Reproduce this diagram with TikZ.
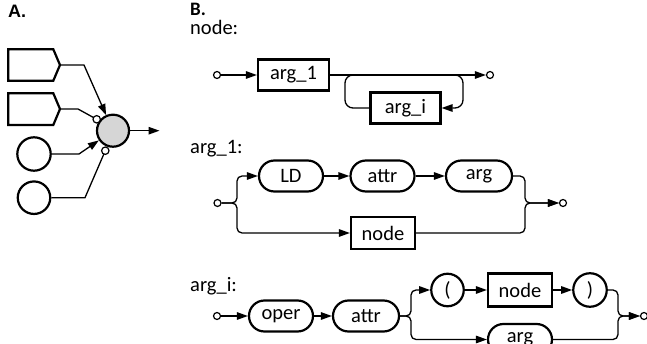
\documentclass[tikz,border=0pt]{standalone}
\usepackage{fontspec}
\setmainfont{Carlito}
\newfontfamily\arialfont{Liberation Sans}
\usetikzlibrary{arrows.meta}

\begin{document}
\begin{tikzpicture}[x=1pt,y=-1pt,
  conn/.style={line width=1.3pt},
  arr/.style={conn,-{Triangle[length=11pt,width=7.5pt]}},
  term/.style={circle,draw,line width=1.2pt,fill=white,minimum size=7pt,inner sep=0pt},
  sqbox/.style={draw,line width=2.2pt,minimum height=31pt,inner sep=0pt,
    font=\fontsize{20.5}{24}\selectfont},
  rbox/.style={sqbox,rounded corners=15.5pt},
  cbox/.style={circle,draw,line width=2.2pt,minimum size=33pt,inner sep=0pt,
    font=\fontsize{20.5}{24}\selectfont},
  lbl/.style={anchor=base west,inner sep=0pt,font=\fontsize{20.5}{24}\selectfont},
  tag/.style={draw,line width=2.2pt,line join=miter}
]
\useasboundingbox (0,0) rectangle (647,344);

% ---------------- panel A: a unit with its inputs ----------------
\node[lbl,font=\fontsize{18}{20}\selectfont\arialfont\bfseries] (ttlA) at (8,18) {A.};

\draw[tag] (8.3,49.3) -- (53.3,49.3) -- (60,65) -- (53.3,80.7) -- (8.3,80.7) -- cycle;
\coordinate (p1) at (60,65);
\draw[tag] (8.3,93.3) -- (53.3,93.3) -- (60,109) -- (53.3,125) -- (8.3,125) -- cycle;
\coordinate (p2) at (60,109);
\node[circle,draw,line width=2.2pt,minimum size=33.4pt,inner sep=0pt] (c1) at (34,154) {};
\node[circle,draw,line width=2.2pt,minimum size=32.5pt,inner sep=0pt] (c2) at (34,197.7) {};
\node[circle,draw,line width=2.2pt,fill=black!16,minimum size=32pt,inner sep=0pt] (g) at (113,130.7) {};
\coordinate (gout) at (159.5,130.7);

\draw[arr] (p1) -- (84,65) -- (g);
\draw[arr] (c1) -- (79,154) -- (g);
\draw[conn] (p2) -- (78,109) -- (96.7,119.3);
\draw[conn] (c2) -- (85,197.7) -- (105.3,150.7);
\node[term,minimum size=7.4pt] (n1) at (96.7,119.3) {};
\node[term,minimum size=7.4pt] (n2) at (105.3,150.7) {};
\draw[arr] (g) -- (gout);

% ---------------- panel B: syntax diagrams ----------------
\node[lbl,font=\fontsize{19}{20}\selectfont\bfseries] (ttlB) at (190,16) {B.};

% node:
\node[lbl] (lnode) at (190,34.5) {node:};
\node[term] (s1) at (217,75) {};
\node[sqbox,minimum width=71pt] (a1) at (293.5,75) {arg\_1};
\node[term] (e1) at (490,75) {};
\node[sqbox,minimum width=70pt] (ai) at (405.5,108) {arg\_i};
\draw[arr] (s1) -- (a1);
\draw[arr] (a1) -- (e1);
\draw[conn,rounded corners=8pt] (ai) -- (345,108) -- (345,75) -- (362,75);
\draw[arr,rounded corners=8pt] (446,75) -- (463,75) -- (463,108) -- (ai);

% arg_1:
\node[lbl] (larg1) at (190,154) {arg\_1:};
\node[term] (s2) at (217.5,203) {};
\node[rbox,minimum width=64pt] (ld) at (291,176) {LD};
\node[rbox,minimum width=64pt] (at1) at (382.5,176) {attr};
\node[rbox,minimum width=66pt] (ag1) at (479,176) {arg};
\node[sqbox,minimum width=64pt,minimum height=32pt] (nd1) at (383,233) {node};
\node[term] (e2) at (563,203) {};
\draw[arr,rounded corners=5pt] (s2) -- (237,203) -- (237,176) -- (ld);
\draw[arr,rounded corners=5pt] (s2) -- (237,203) -- (237,233) -- (nd1);
\draw[arr] (ld) -- (at1);
\draw[arr] (at1) -- (ag1);
\draw[arr,rounded corners=5pt] (ag1) -- (525,176) -- (525,203) -- (e2);
\draw[arr,rounded corners=5pt] (nd1) -- (525,233) -- (525,203) -- (e2);

% arg_i:
\node[lbl] (largi) at (190,291) {arg\_i:};
\node[term] (s3) at (217,316) {};
\node[rbox,minimum width=64pt] (op) at (281,316) {oper};
\node[rbox,minimum width=66pt] (at2) at (366,316) {attr};
\node[cbox,minimum size=32.5pt] (lp) at (447.5,290) {(};
\node[sqbox,minimum width=64pt,minimum height=33pt] (nd2) at (520,290) {node};
\node[cbox,minimum size=33.5pt] (rp) at (590,290) {)};
\node[rbox,minimum width=64pt] (ag2) at (520,339.5) {arg};
\node[term] (e3) at (644,316) {};
\draw[arr] (s3) -- (op);
\draw[arr] (op) -- (at2);
\draw[arr,rounded corners=5pt] (at2) -- (411,316) -- (411,290) -- (lp);
\draw[arr,rounded corners=5pt] (at2) -- (411,316) -- (411,339.5) -- (ag2);
\draw[arr] (lp) -- (nd2);
\draw[arr] (nd2) -- (rp);
\draw[arr,rounded corners=5pt] (rp) -- (618,290) -- (618,316) -- (e3);
\draw[arr,rounded corners=5pt] (ag2) -- (618,339.5) -- (618,316) -- (e3);
\end{tikzpicture}
\end{document}
